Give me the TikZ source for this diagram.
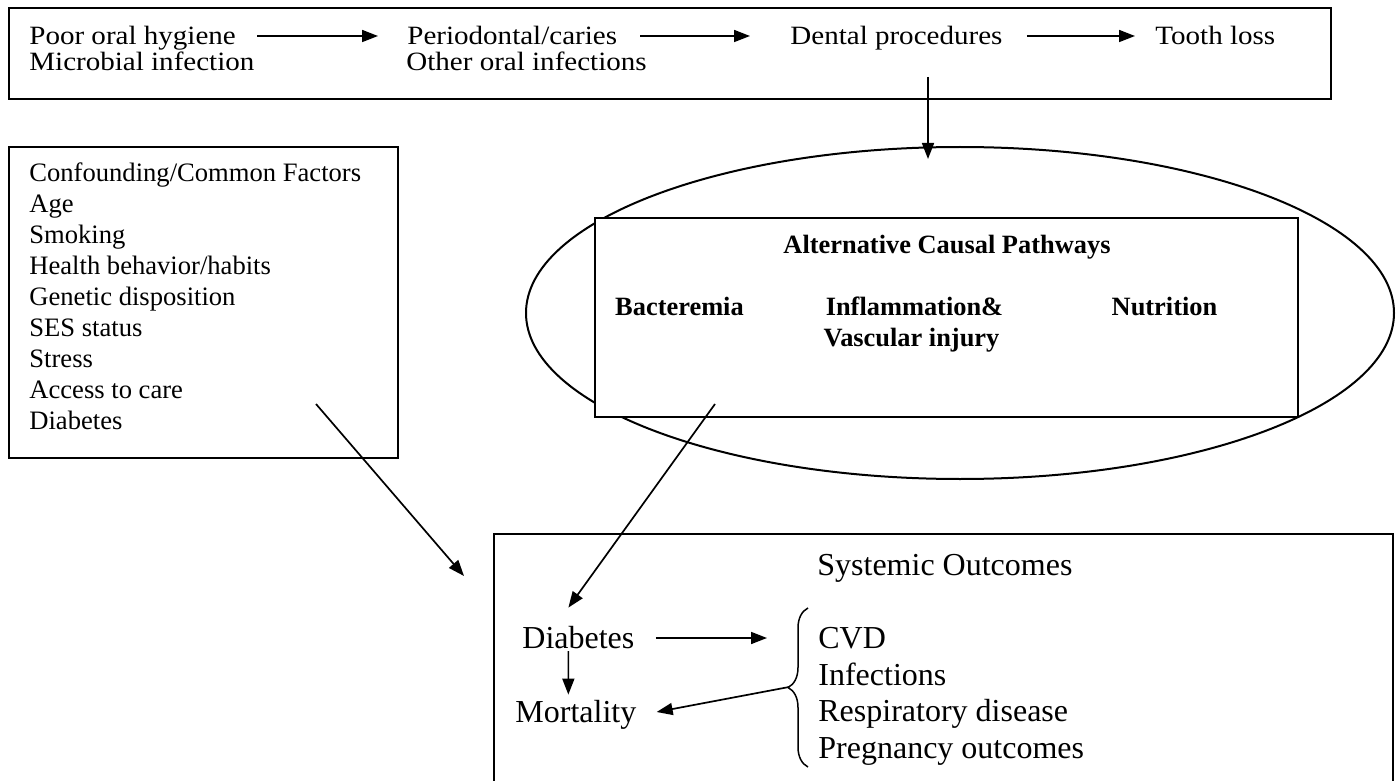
\documentclass[tikz,border=0pt]{standalone}
\usepackage{fontspec}
\setmainfont{Liberation Serif}
\newfontfamily\chainfont[FakeStretch=1.1]{Liberation Serif}
\usetikzlibrary{arrows.meta,shapes.geometric,decorations.pathreplacing}

\tikzset{
  box/.style={draw, line width=1pt, inner sep=0pt, fill=white},
  arr/.style={-{Triangle[length=8pt,width=6pt]}, line width=0.85pt},
  toptxt/.style={font=\chainfont\fontsize{13.2}{16}\selectfont, inner sep=0pt, text height=8.7pt, text depth=0pt, anchor=west},
  factxt/.style={font=\fontsize{13.3}{16}\selectfont, inner sep=0pt, text height=8.8pt, text depth=0pt, anchor=west},
  pathtxt/.style={font=\fontsize{13.2}{16}\selectfont\bfseries, inner sep=0pt, text height=8.8pt, text depth=0pt},
  outtxt/.style={font=\fontsize{16}{19}\selectfont, inner sep=0pt, text height=10.6pt, text depth=0pt, anchor=west},
  bracket/.style={decorate, decoration={brace, amplitude=10pt}, line width=0.75pt}
}

\begin{document}
\begin{tikzpicture}[x=0.5pt,y=-0.5pt]
\useasboundingbox (0,0) rectangle (1399,781);
% oral health chain
\node[box, minimum width=661pt, minimum height=45.5pt] (chainbox) at (670,53.5) {};
\node[toptxt] (poor) at (29,36) {Poor oral hygiene};
\node[toptxt] (microbial) at (29,62) {Microbial infection};
\node[toptxt] (perio) at (407,36) {Periodontal/caries};
\node[toptxt] (other) at (406,62) {Other oral infections};
\node[toptxt] (dental) at (790,36) {Dental procedures};
\node[toptxt] (tooth) at (1155,36) {Tooth loss};
\draw[arr] ([xshift=10.5pt]poor.east) -- ([xshift=-14.5pt]perio.west);
\draw[arr] ([xshift=11.5pt]perio.east) -- ([xshift=-20pt]dental.west);
\draw[arr] ([xshift=12pt]dental.east) -- ([xshift=-10pt]tooth.west);

% confounders
\node[box, minimum width=194.5pt, minimum height=155.5pt] (confbox) at (203.5,302.5) {};
\foreach \t [count=\i] in {{Confounding/Common Factors},Age,Smoking,{Health behavior/habits},{Genetic disposition},{SES status},Stress,{Access to care},Diabetes}
{%
	\node[factxt] (factor \i) at (29,{173+31*(\i-1)}) {\t};
}%

% pathways
\node[draw, ellipse, line width=1pt, inner sep=0pt, minimum width=434pt, minimum height=166pt] (paths) at (960,313) {};
\node[box, minimum width=351.5pt, minimum height=99.5pt] (altbox) at (946.5,317.5) {};
\node[pathtxt] (alttitle) at (947,245) {Alternative Causal Pathways};
\node[pathtxt] (bact) at (679.5,307) {Bacteremia};
\node[pathtxt] (inflam) at (914.5,307) {Inflammation\&};
\node[pathtxt] (vasc) at (911.5,338) {Vascular injury};
\node[pathtxt] (nutr) at (1164.5,307) {Nutrition};
\draw[arr] ([shift={(-16pt,34.5pt)}]paths.north) -- ([shift={(-16pt,-6.5pt)}]paths.north);

% outcomes
\node[box, minimum width=449.5pt, minimum height=133pt] (sysbox) at (943.5,667) {};
\node[outtxt] (systitle) at (817,565) {Systemic Outcomes};
\node[outtxt] (diab) at (522,638) {Diabetes};
\node[outtxt] (mort) at (515,712) {Mortality};
\foreach \t [count=\i] in {CVD,Infections,{Respiratory disease},{Pregnancy outcomes}}
{%
	\node[outtxt] (outcome \i) at (818,{638+36.67*(\i-1)}) {\t};
}%
\coordinate (bracetop) at (808,608);
\coordinate (bracebot) at (808,767);
\coordinate (bracetip) at (789,687);
\draw[bracket] (bracebot) -- (bracetop);

\draw[arr] ([xshift=10.5pt]diab.east) -- ([xshift=-25.5pt]outcome 1.west);
\draw[arr] ([shift={(-5pt,-1pt)}]diab.south) -- ([shift={(-3.75pt,3.2pt)}]mort.north);
\draw[arr] (bracetip) -- ([xshift=10pt]mort.east);
\draw[arr] ([shift={(60.5pt,7pt)}]altbox.south west) -- ([shift={(-5pt,9.7pt)}]diab.north);
\draw[arr] ([shift={(-41.5pt,27.5pt)}]confbox.south east) -- ([shift={(-14.5pt,-21.5pt)}]sysbox.north west);
\end{tikzpicture}
\end{document}
